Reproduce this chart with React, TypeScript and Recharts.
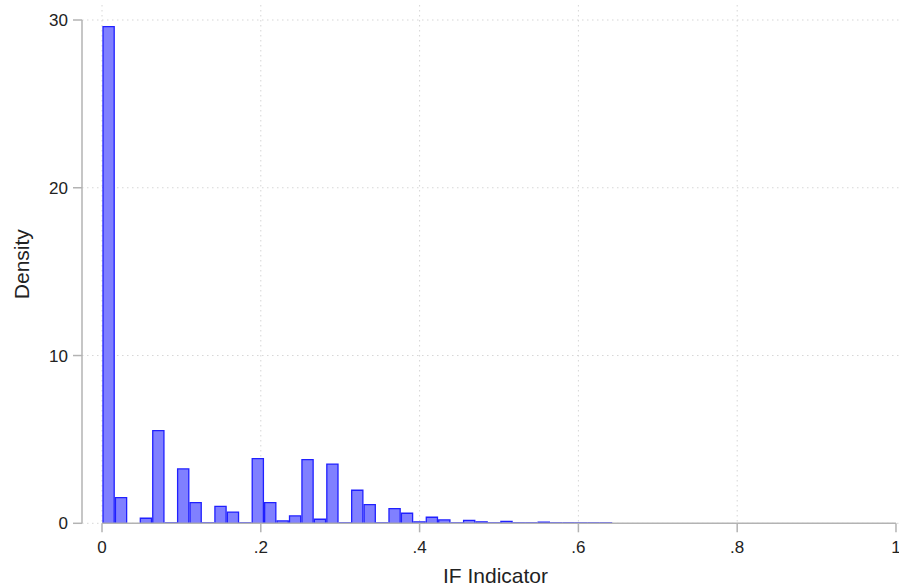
import React from "react";
import {
  ComposedChart,
  Bar,
  XAxis,
  YAxis,
  CartesianGrid,
  ReferenceLine,
} from "recharts";

// Histogram of "IF Indicator" (density), 41 equal-width bins starting at 0
const BIN_WIDTH = 0.01566;
const densities: number[] = [
  29.6, 1.53, 0, 0.3, 5.52, 0.03, 3.24, 1.23, 0.03, 1.01,
  0.67, 0.03, 3.85, 1.23, 0.14, 0.44, 3.79, 0.24, 3.53, 0.03,
  1.97, 1.11, 0.03, 0.87, 0.6, 0.08, 0.36, 0.2, 0.03, 0.18,
  0.09, 0.03, 0.12, 0.03, 0.03, 0.07, 0.03, 0.03, 0.02, 0.02,
  0.02,
];
const xTicks: number[] = [0, 0.2, 0.4, 0.6, 0.8, 1];
const yTicks: number[] = [0, 10, 20, 30];
const xGridValues: number[] = [0, 0.2, 0.4, 0.6, 0.8];

const X_DOMAIN: [number, number] = [-0.0252, 1.0038];
const Y_DOMAIN: [number, number] = [0, 30.894];

const data = densities.map((d, i) => ({
  mid: (i + 0.5) * BIN_WIDTH,
  density: d,
}));

const CHART_W = 899;
const CHART_H = 588;
const Y_AXIS_W = 82;
const X_AXIS_H = 64.7;
const MARGIN = { top: 5, right: 0, bottom: 0, left: 0 };
const PLOT_W = CHART_W - Y_AXIS_W - MARGIN.left - MARGIN.right;
const BAR_PX = (PLOT_W * BIN_WIDTH) / (X_DOMAIN[1] - X_DOMAIN[0]);

const FONT = "'Liberation Sans', Arial, sans-serif";
const AXIS_GRAY = "#b3b3b3";
const GRID_GRAY = "#d6d6d6";

const fmtX = (v: number) => {
  if (v === 0) return "0";
  if (v === 1) return "1";
  return String(v).replace(/^0/, "");
};

export default function App() {
  return (
    <div style={{ position: "absolute", left: 0, top: 0, background: "#fff" }}>
      <ComposedChart
        width={CHART_W}
        height={CHART_H}
        data={data}
        margin={MARGIN}
        barGap={0}
        barCategoryGap={0}
      >
        <CartesianGrid
          stroke={GRID_GRAY}
          strokeDasharray="1.5 3.5"
          horizontalValues={yTicks}
          verticalValues={xGridValues}
        />
        <XAxis
          dataKey="mid"
          type="number"
          domain={X_DOMAIN}
          allowDataOverflow
          ticks={xTicks}
          interval={0}
          tickFormatter={fmtX}
          height={X_AXIS_H}
          axisLine={false}
          tickLine={{ stroke: AXIS_GRAY, strokeWidth: 1.5 }}
          tickSize={9}
          tickMargin={9}
          tick={{ fill: "#222", fontSize: 17, fontFamily: FONT }}
          label={{
            value: "IF Indicator",
            position: "insideBottom",
            offset: 5,
            dx: 5,
            style: { fill: "#222", fontSize: 21, fontFamily: FONT },
          }}
        />
        <YAxis
          type="number"
          domain={Y_DOMAIN}
          allowDataOverflow
          ticks={yTicks}
          interval={0}
          width={Y_AXIS_W}
          axisLine={false}
          tickLine={{ stroke: AXIS_GRAY, strokeWidth: 1.5 }}
          tickSize={9}
          tickMargin={5}
          tick={{ fill: "#222", fontSize: 17, fontFamily: FONT }}
          label={{
            value: "Density",
            angle: -90,
            position: "insideLeft",
            offset: 22,
            style: { fill: "#222", fontSize: 21, fontFamily: FONT, textAnchor: "middle" },
          }}
        />
        <ReferenceLine
          segment={[
            { x: X_DOMAIN[0], y: 0 },
            { x: X_DOMAIN[0], y: 30 },
          ]}
          stroke={AXIS_GRAY}
          strokeWidth={1.5}
          ifOverflow="visible"
        />
        <ReferenceLine
          segment={[
            { x: 0, y: 0 },
            { x: 1, y: 0 },
          ]}
          stroke={AXIS_GRAY}
          strokeWidth={1.5}
          ifOverflow="visible"
        />
        <Bar
          dataKey="density"
          barSize={BAR_PX}
          fill="#8080ff"
          stroke="#2020ff"
          strokeWidth={1.3}
          isAnimationActive={false}
        />
      </ComposedChart>
    </div>
  );
}
